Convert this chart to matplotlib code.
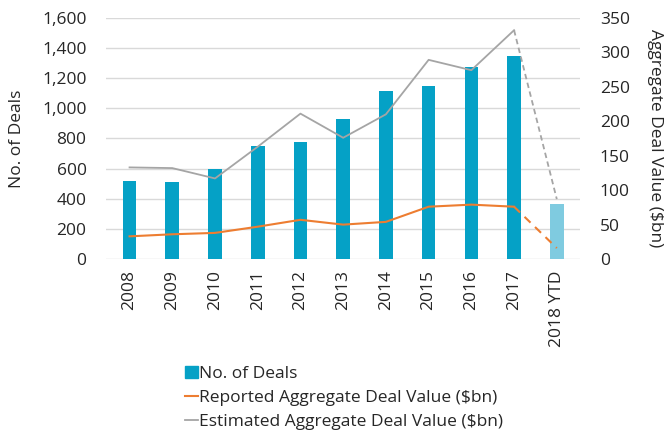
import matplotlib
matplotlib.use('Agg')
import matplotlib.pyplot as plt
from matplotlib.ticker import FuncFormatter
from matplotlib.patches import Patch
from matplotlib.lines import Line2D
import numpy as np

plt.rcParams['font.family'] = ['Open Sans', 'DejaVu Sans']

years = ['2008', '2009', '2010', '2011', '2012', '2013', '2014', '2015', '2016', '2017', '2018 YTD']
deals = [520, 510, 600, 750, 775, 930, 1115, 1150, 1275, 1345, 365]
reported = [33, 36, 38, 47, 57, 50, 54, 76, 79, 76, 16]
estimated = [133, 132, 117, 163, 211, 176, 210, 289, 274, 332, 87]

blue = '#05A1C6'
light_blue = '#7FCBE0'
orange = '#ED7D31'
grey = '#A5A5A5'
txt = '#262626'
fs = 12.5

fig = plt.figure(figsize=(6.67, 4.34), dpi=100)
ax = fig.add_axes([0.159, 0.403, 0.711, 0.556])
ax2 = ax.twinx()

x = np.arange(len(years))
cols = [blue] * (len(years) - 1) + [light_blue]
ax.bar(x, deals, width=0.32, color=cols, zorder=2)

# solid up to 2017, dashed to 2018 YTD
ax2.plot(x[:-1], reported[:-1], color=orange, lw=1.5)
ax2.plot(x[-2:], reported[-2:], color=orange, lw=1.5, ls=(0, (4, 3)))
ax2.plot(x[:-1], estimated[:-1], color=grey, lw=1.3)
ax2.plot(x[-2:], estimated[-2:], color=grey, lw=1.3, ls=(0, (3, 2)))

ax.set_ylim(0, 1600)
ax.set_yticks(range(0, 1601, 200))
ax.yaxis.set_major_formatter(FuncFormatter(lambda v, p: f'{int(v):,}'))
ax2.set_ylim(0, 350)
ax2.set_yticks(range(0, 351, 50))
ax.set_xlim(-0.55, len(years) - 0.45)
ax.set_xticks(x)
ax.set_xticklabels(years, rotation=90)

ax.grid(axis='y', color='#D9D9D9', lw=1, zorder=0)
ax.set_axisbelow(True)
for a in (ax, ax2):
    for s in a.spines.values():
        s.set_visible(False)
    a.tick_params(length=0, labelsize=fs, colors=txt)
ax.tick_params(axis='x', pad=8)
ax.tick_params(axis='y', pad=14)
ax2.tick_params(axis='y', pad=14)

ax.set_ylabel('No. of Deals', fontsize=fs, color=txt, labelpad=12)
ax2.set_ylabel('Aggregate Deal Value ($bn)', fontsize=fs, color=txt, rotation=270, labelpad=24)

handles = [Patch(color=blue), Line2D([], [], color=orange, lw=1.5), Line2D([], [], color=grey, lw=1.3)]
labels = ['No. of Deals', 'Reported Aggregate Deal Value ($bn)', 'Estimated Aggregate Deal Value ($bn)']
fig.legend(handles, labels, loc='upper left', bbox_to_anchor=(0.264, 0.177), frameon=False,
           fontsize=fs, handlelength=0.75, handletextpad=0.05, labelspacing=0.45, borderpad=0, labelcolor=txt)

fig.savefig('out.png', dpi=100)
